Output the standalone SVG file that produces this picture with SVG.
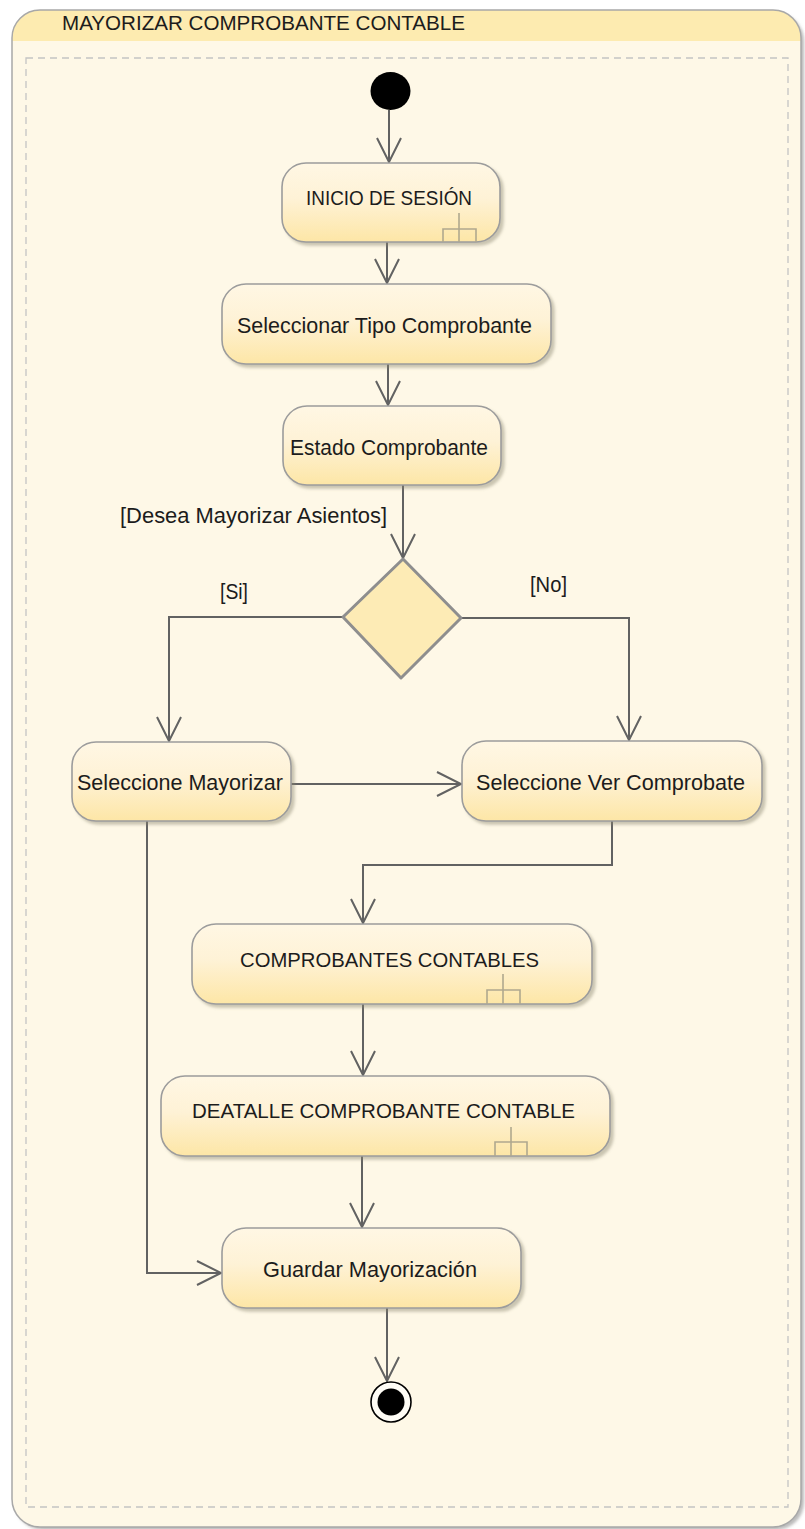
<svg xmlns="http://www.w3.org/2000/svg" width="805" height="1529" viewBox="0 0 805 1529">
  <style>
    .lbl { font-family: "Liberation Sans", Arial, sans-serif; font-size: 22.5px; fill: #1c1c1c; }
    .caps { font-size: 21px; }
    .act { fill: url(#actFill); stroke: #9c9c9c; stroke-width: 1.6; filter: url(#shadow); }
    .edge { fill: none; stroke: #626262; stroke-width: 2; }
    .arrow { marker-end: url(#open); }
    .rake { fill: none; stroke: #b0a88e; stroke-width: 1.6; }
  </style>
  <defs>
    <linearGradient id="actFill" x1="0" y1="0" x2="0" y2="1">
      <stop offset="0" stop-color="#fff7e4"/>
      <stop offset="0.45" stop-color="#fef2d6"/>
      <stop offset="1" stop-color="#fde6a6"/>
    </linearGradient>
    <filter id="shadow" x="-10%" y="-10%" width="125%" height="130%">
      <feDropShadow dx="3" dy="3" stdDeviation="1.5" flood-color="#8a8470" flood-opacity="0.45"/>
    </filter>
    <filter id="frameShadow" x="-5%" y="-5%" width="110%" height="110%">
      <feDropShadow dx="3" dy="3" stdDeviation="1.5" flood-color="#777" flood-opacity="0.5"/>
    </filter>
    <marker id="open" viewBox="-26 -14 30 28" refX="0" refY="0" markerWidth="30" markerHeight="28" markerUnits="userSpaceOnUse" orient="auto">
      <path d="M-24,-12 L0,0 L-24,12" fill="none" stroke="#626262" stroke-width="2"/>
    </marker>
    <clipPath id="frameClip">
      <rect x="12" y="10" width="789" height="1517" rx="28" ry="28"/>
    </clipPath>
  </defs>

  <!-- activity frame -->
  <g id="frame">
    <rect x="12" y="10" width="789" height="1517" rx="28" ry="28" fill="#fef8e7" filter="url(#frameShadow)"/>
    <rect x="12" y="10" width="789" height="31" fill="#fdebb0" clip-path="url(#frameClip)"/>
    <rect x="12" y="10" width="789" height="1517" rx="28" ry="28" fill="none" stroke="#a8a8a8" stroke-width="1.5"/>
    <rect x="26" y="58" width="762" height="1449" fill="none" stroke="#c4c4c4" stroke-width="1.3" stroke-dasharray="7 5"/>
    <text class="lbl caps" x="62" y="30" textLength="403" lengthAdjust="spacingAndGlyphs">MAYORIZAR COMPROBANTE CONTABLE</text>
  </g>

  <!-- control flows -->
  <g id="connectors">
    <path class="edge arrow" d="M389,110 L389,162"/>
    <path class="edge arrow" d="M387,242 L387,283"/>
    <path class="edge arrow" d="M388,364 L388,405"/>
    <path class="edge arrow" d="M403,485 L403,558"/>
    <path class="edge arrow" d="M343,617 L169,617 L169,741"/>
    <path class="edge arrow" d="M461,618 L629,618 L629,740"/>
    <path class="edge arrow" d="M291,784 L461,784"/>
    <path class="edge arrow" d="M612,821 L612,865 L363,865 L363,923"/>
    <path class="edge arrow" d="M363,1004 L363,1075"/>
    <path class="edge arrow" d="M362,1156 L362,1227"/>
    <path class="edge arrow" d="M147,821 L147,1273 L221,1273"/>
    <path class="edge arrow" d="M387,1308 L387,1381"/>
    <text class="lbl" x="120" y="523" textLength="267" lengthAdjust="spacingAndGlyphs">[Desea Mayorizar Asientos]</text>
    <text class="lbl" x="220" y="599" textLength="28" lengthAdjust="spacingAndGlyphs">[Si]</text>
    <text class="lbl" x="530" y="592" textLength="37" lengthAdjust="spacingAndGlyphs">[No]</text>
  </g>

  <g id="initial">
    <ellipse cx="390.5" cy="91" rx="20" ry="19" fill="#000"/>
  </g>

  <g id="inicio-sesion">
    <rect class="act" x="282" y="163" width="218" height="79" rx="24" ry="24"/>
    <text class="lbl caps" x="306" y="205" textLength="166" lengthAdjust="spacingAndGlyphs">INICIO DE SESIÓN</text>
    <path class="rake" d="M459,213 V242 M443,242 V229 H476 V242"/>
  </g>

  <g id="seleccionar-tipo">
    <rect class="act" x="222" y="284" width="329" height="80" rx="24" ry="24"/>
    <text class="lbl" x="237" y="333" textLength="295" lengthAdjust="spacingAndGlyphs">Seleccionar Tipo Comprobante</text>
  </g>

  <g id="estado-comprobante">
    <rect class="act" x="283" y="406" width="218" height="79" rx="24" ry="24"/>
    <text class="lbl" x="290" y="455" textLength="198" lengthAdjust="spacingAndGlyphs">Estado Comprobante</text>
  </g>

  <g id="decision">
    <polygon points="403,559 461,618 401,678 343,617" fill="#fdebb5" stroke="#8e8e8e" stroke-width="3" stroke-linejoin="round"/>
  </g>

  <g id="seleccione-mayorizar">
    <rect class="act" x="72" y="742" width="219" height="79" rx="24" ry="24"/>
    <text class="lbl" x="77" y="790" textLength="206" lengthAdjust="spacingAndGlyphs">Seleccione Mayorizar</text>
  </g>

  <g id="seleccione-ver">
    <rect class="act" x="462" y="741" width="300" height="80" rx="24" ry="24"/>
    <text class="lbl" x="476" y="790" textLength="269" lengthAdjust="spacingAndGlyphs">Seleccione Ver Comprobate</text>
  </g>

  <g id="comprobantes-contables">
    <rect class="act" x="192" y="924" width="400" height="80" rx="24" ry="24"/>
    <text class="lbl caps" x="240" y="967" textLength="299" lengthAdjust="spacingAndGlyphs">COMPROBANTES CONTABLES</text>
    <path class="rake" d="M503,974 V1004 M487,1004 V990 H520 V1004"/>
  </g>

  <g id="detalle-comprobante">
    <rect class="act" x="161" y="1076" width="449" height="80" rx="24" ry="24"/>
    <text class="lbl caps" x="192" y="1118" textLength="383" lengthAdjust="spacingAndGlyphs">DEATALLE COMPROBANTE CONTABLE</text>
    <path class="rake" d="M511,1127 V1156 M495,1156 V1142 H527 V1156"/>
  </g>

  <g id="guardar-mayorizacion">
    <rect class="act" x="222" y="1228" width="299" height="80" rx="24" ry="24"/>
    <text class="lbl" x="263" y="1277" textLength="214" lengthAdjust="spacingAndGlyphs">Guardar Mayorización</text>
  </g>

  <g id="final">
    <circle cx="391" cy="1402" r="20" fill="#fffdf6" stroke="#000" stroke-width="1.6"/>
    <circle cx="391" cy="1402" r="13.5" fill="#000"/>
  </g>
</svg>
